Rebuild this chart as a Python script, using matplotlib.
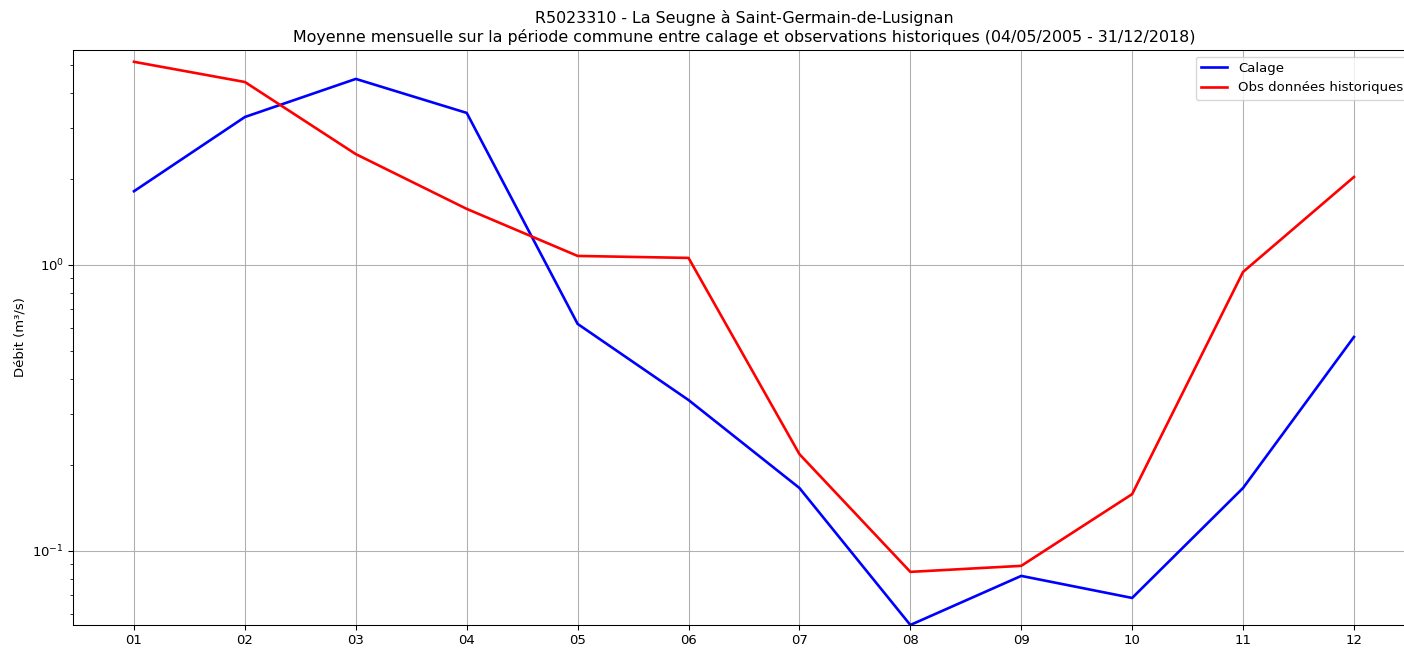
import matplotlib
matplotlib.use('Agg')
import matplotlib.pyplot as plt

# moyennes mensuelles du débit (m3/s)
mois = ['01', '02', '03', '04', '05', '06', '07', '08', '09', '10', '11', '12']
calage = [1.81, 3.29, 4.47, 3.40, 0.622, 0.337, 0.166, 0.0551, 0.0818, 0.0685, 0.166, 0.560]
obs_hist = [5.13, 4.36, 2.44, 1.57, 1.075, 1.058, 0.218, 0.0845, 0.0887, 0.158, 0.945, 2.03]

station = 'R5023310 - La Seugne à Saint-Germain-de-Lusignan'
periode = '(04/05/2005 - 31/12/2018)'

dpi = 95
fig = plt.figure(figsize=(1404 / dpi, 649 / dpi), dpi=dpi)
ax = fig.add_axes([0.052, 0.037, 0.9558, 0.886])

ax.plot(mois, calage, color='blue', linewidth=2, label='Calage')
ax.plot(mois, obs_hist, color='red', linewidth=2, label='Obs données historiques')
ax.set_yscale('log')
ax.set_ylim(min(calage + obs_hist), max(calage + obs_hist) * 1.1)
ax.grid(True)
ax.set_ylabel('Débit (m³/s)')
ax.set_title(station + '\nMoyenne mensuelle sur la période commune entre calage et observations historiques ' + periode)
ax.legend(loc='upper right')

fig.savefig('out.png', dpi=dpi)
